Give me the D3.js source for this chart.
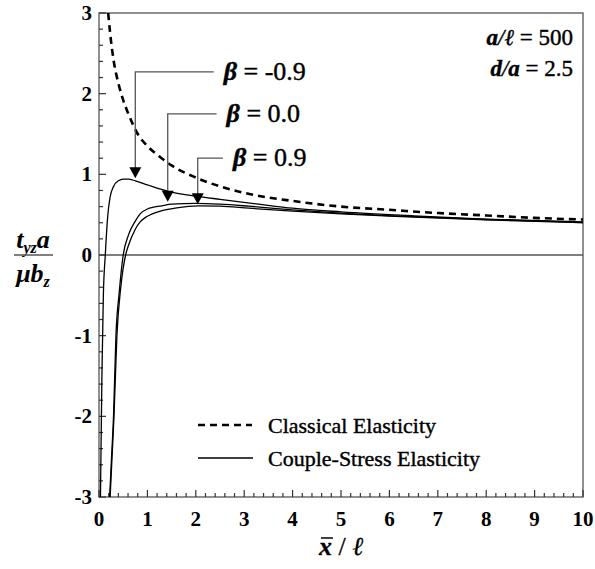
<!DOCTYPE html>
<html><head><meta charset="utf-8">
<script src="https://cdn.jsdelivr.net/npm/d3@7"></script>
<style>body{margin:0;background:#fff}svg{display:block}</style>
</head><body><div id="chart"></div>
<script>
// ---- data ----
const xTicks = [0,1,2,3,4,5,6,7,8,9,10];
const yTicks = [-3,-2,-1,0,1,2,3];
const classicalX = [0.19,0.23,0.3,0.4,0.5,0.6,0.8,1.0,1.25,1.5,2,2.5,3,4,5,6,7,8,9,10];
const classicalY = [3.0,2.75,2.42,2.13,1.92,1.76,1.50,1.35,1.22,1.11,0.96,0.85,0.77,0.67,0.60,0.56,0.52,0.49,0.46,0.44];
const betaM09X = [0.03,0.06,0.09,0.13,0.18,0.23,0.3,0.4,0.5,0.6,0.75,1.0,1.43,2,2.5,3.3,4,5,6.5,8,10];
const betaM09Y = [-3,-1.5,-0.5,0,0.48,0.72,0.85,0.92,0.94,0.94,0.92,0.87,0.79,0.73,0.69,0.63,0.58,0.535,0.485,0.445,0.41];
const beta00X = [0.22,0.26,0.30,0.35,0.42,0.5,0.61,0.75,0.85,1.0,1.3,1.5,2,2.5,3.1,4,5,6.5,8,10];
const beta00Y = [-3,-2.5,-2.0,-1.0,-0.45,0,0.25,0.42,0.51,0.57,0.61,0.63,0.64,0.63,0.605,0.56,0.52,0.475,0.44,0.405];
const beta09X = [0.23,0.31,0.37,0.45,0.55,0.61,0.75,0.85,1.0,1.3,1.57,2.05,2.5,3.1,4,5,6.5,8,10];
const beta09Y = [-3,-2,-1,-0.4,0,0.12,0.32,0.41,0.48,0.55,0.58,0.61,0.605,0.58,0.545,0.51,0.47,0.435,0.40];
const betaLabels = ["-0.9","0.0","0.9"];
const arrowX = [0.75,1.42,2.04];
const arrowTip = [0.95,0.66,0.63];
const leaderY = [2.27,1.75,1.2];
const leaderEndX = [2.37,2.43,2.56];
const legendLabels = ["Classical Elasticity","Couple-Stress Elasticity"];

// ---- layout ----
const W=595,H=569;
const m={left:99,right:12,top:13,bottom:72};
const x=d3.scaleLinear().domain([0,10]).range([m.left,W-m.right]);
const y=d3.scaleLinear().domain([-3,3]).range([H-m.bottom,m.top]);
const svg=d3.select("#chart").append("svg").attr("width",W).attr("height",H);
const serif="'Liberation Serif','Times New Roman',serif";

svg.append("defs").append("clipPath").attr("id","clip").append("rect")
  .attr("x",x(0)).attr("y",y(3)).attr("width",x(10)-x(0)).attr("height",y(-3)-y(3));

// frame
svg.append("rect").attr("x",x(0)).attr("y",y(3)).attr("width",x(10)-x(0)).attr("height",y(-3)-y(3))
  .attr("fill","none").attr("stroke","#555").attr("stroke-width",1.3);
// zero line
svg.append("line").attr("x1",x(0)).attr("x2",x(10)).attr("y1",y(0)).attr("y2",y(0))
  .attr("stroke","#555").attr("stroke-width",1.3);

// x ticks
const xMinor=d3.range(0,10.001,0.2);
svg.append("g").selectAll("line").data(xMinor).join("line")
  .attr("x1",d=>x(d)).attr("x2",d=>x(d)).attr("y1",y(-3))
  .attr("y2",d=>Math.abs(d-Math.round(d))<1e-6?y(-3)-7:y(-3)-4)
  .attr("stroke","#333").attr("stroke-width",1.2);
svg.append("g").selectAll("text").data(xTicks).join("text")
  .attr("x",d=>x(d)).attr("y",y(-3)+29).attr("text-anchor","middle")
  .attr("font-family",serif).attr("font-weight","bold").attr("font-size",21).text(d=>d);
// y ticks
const yMinor=d3.range(-3,3.001,0.2);
svg.append("g").selectAll("line").data(yMinor).join("line")
  .attr("y1",d=>y(d)).attr("y2",d=>y(d)).attr("x1",x(0))
  .attr("x2",d=>Math.abs(d-Math.round(d))<1e-6?x(0)+7:x(0)+4)
  .attr("stroke","#333").attr("stroke-width",1.2);
svg.append("g").selectAll("text").data(yTicks).join("text")
  .attr("x",x(0)-7).attr("y",d=>y(d)+7).attr("text-anchor","end")
  .attr("font-family",serif).attr("font-weight","bold").attr("font-size",21).text(d=>d);

// curves
const line=d3.line().x(d=>x(d[0])).y(d=>y(d[1])).curve(d3.curveMonotoneX);
const plot=svg.append("g").attr("clip-path","url(#clip)");
plot.append("path").datum(d3.zip(classicalX,classicalY)).attr("d",line)
  .attr("fill","none").attr("stroke","#000").attr("stroke-width",2.6).attr("stroke-dasharray","7,5");
[[betaM09X,betaM09Y],[beta00X,beta00Y],[beta09X,beta09Y]].forEach(([xs,ys])=>{
  plot.append("path").datum(d3.zip(xs,ys)).attr("d",line)
    .attr("fill","none").attr("stroke","#000").attr("stroke-width",1.3);
});

// annotations
betaLabels.forEach((lab,i)=>{
  const ax=x(arrowX[i]), ly=y(leaderY[i]), tip=y(arrowTip[i]);
  svg.append("path").attr("d",`M${x(leaderEndX[i])},${ly}H${ax}V${tip-9}`)
    .attr("fill","none").attr("stroke","#555").attr("stroke-width",1.3);
  svg.append("path").attr("d",`M${ax-6},${tip-11}L${ax+6},${tip-11}L${ax},${tip}Z`).attr("fill","#000");
  const t=svg.append("text").attr("x",x(leaderEndX[i])+10).attr("y",ly+8)
    .attr("font-family",serif).attr("font-size",26).attr("stroke","#000").attr("stroke-width",0.4);
  t.append("tspan").attr("font-style","italic").attr("font-weight","bold").text("β");
  t.append("tspan").text(" = "+lab);
});

// parameters text
const p1=svg.append("text").attr("x",573).attr("y",45).attr("text-anchor","end")
  .attr("font-family",serif).attr("font-size",23).attr("stroke","#000").attr("stroke-width",0.4);
p1.append("tspan").attr("font-style","italic").attr("font-weight","bold").text("a");
p1.append("tspan").attr("font-style","italic").text("/ℓ");
p1.append("tspan").text(" = 500");
const p2=svg.append("text").attr("x",573).attr("y",76).attr("text-anchor","end")
  .attr("font-family",serif).attr("font-size",23).attr("stroke","#000").attr("stroke-width",0.4);
p2.append("tspan").attr("font-style","italic").attr("font-weight","bold").text("d");
p2.append("tspan").attr("font-style","italic").text("/");
p2.append("tspan").attr("font-style","italic").attr("font-weight","bold").text("a");
p2.append("tspan").text(" = 2.5");

// legend
const lg=svg.append("g");
lg.append("line").attr("x1",198).attr("x2",252).attr("y1",425).attr("y2",425)
  .attr("stroke","#000").attr("stroke-width",2.6).attr("stroke-dasharray","7,5");
lg.append("line").attr("x1",198).attr("x2",253).attr("y1",458).attr("y2",458)
  .attr("stroke","#000").attr("stroke-width",1.3);
lg.selectAll("text").data(legendLabels).join("text")
  .attr("x",268).attr("y",(d,i)=>433+i*33).attr("font-family",serif).attr("font-size",22)
  .attr("stroke","#000").attr("stroke-width",0.4).text(d=>d);

// y-axis label (fraction)
const yl=svg.append("g").attr("font-family",serif).attr("font-style","italic").attr("font-weight","bold");
const num=yl.append("text").attr("x",33).attr("y",248).attr("text-anchor","middle").attr("font-size",26);
num.append("tspan").text("t");
num.append("tspan").attr("font-size",16).attr("dy",5).text("yz");
num.append("tspan").attr("dy",-5).text("a");
yl.append("line").attr("x1",14).attr("x2",53).attr("y1",255).attr("y2",255).attr("stroke","#555").attr("stroke-width",1.5);
const den=yl.append("text").attr("x",33).attr("y",282).attr("text-anchor","middle").attr("font-size",26);
den.append("tspan").text("μb");
den.append("tspan").attr("font-size",16).attr("dy",5).text("z");

// x-axis label
const xl=svg.append("text").attr("x",341).attr("y",555).attr("text-anchor","middle")
  .attr("font-family",serif).attr("font-size",26).attr("stroke","#000").attr("stroke-width",0.3);
xl.append("tspan").attr("font-style","italic").attr("font-weight","bold").text("x");
xl.append("tspan").text(" / ");
xl.append("tspan").attr("font-style","italic").text("ℓ");
const ext=xl.node().getExtentOfChar(0);
svg.append("line").attr("x1",ext.x+2).attr("x2",ext.x+ext.width+1)
  .attr("y1",538).attr("y2",538).attr("stroke","#000").attr("stroke-width",1.5);
</script></body></html>
